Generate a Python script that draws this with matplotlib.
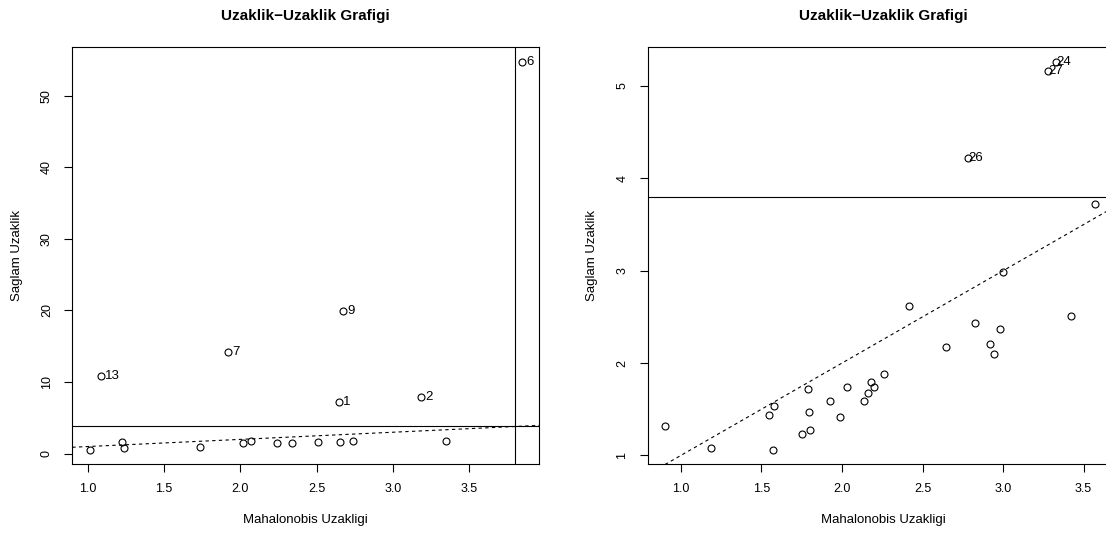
import matplotlib
matplotlib.use("Agg")
import matplotlib.pyplot as plt
import numpy as np

plt.rcParams['font.family'] = ['Liberation Sans', 'DejaVu Sans']

# left panel data
mah1 = [1.085, 1.921, 2.672, 2.646, 3.181, 3.846,
        1.013, 1.227, 1.238, 1.738, 2.017, 2.067, 2.242, 2.336, 2.506, 2.652, 2.739, 3.344]
rob1 = [10.9, 14.16, 19.93, 7.22, 7.92, 54.66,
        0.56, 1.59, 0.75, 0.98, 1.45, 1.77, 1.54, 1.49, 1.59, 1.63, 1.82, 1.73]
lab1 = ["13", "7", "9", "1", "2", "6"] + [""] * 12

# right panel data
mah2 = [2.784, 3.329, 3.279, 3.572, 3.001,
        0.903, 1.184, 1.574, 1.545, 1.576, 1.751, 1.803, 1.794, 1.788, 1.926, 1.986, 2.029,
        2.139, 2.161, 2.182, 2.196, 2.258, 2.417, 2.646, 2.824, 2.916, 2.945, 2.984, 3.421]
rob2 = [4.225, 5.264, 5.163, 3.721, 2.985,
        1.318, 1.080, 1.062, 1.433, 1.535, 1.231, 1.275, 1.473, 1.714, 1.589, 1.419, 1.736,
        1.592, 1.675, 1.794, 1.740, 1.877, 2.623, 2.169, 2.439, 2.206, 2.093, 2.368, 2.512]
lab2 = ["26", "24", "27"] + [""] * 26

cutoff = 3.8013  # sqrt(qchisq(0.975, 6))

fig = plt.figure(figsize=(11.06, 5.36), dpi=100)
ax1 = fig.add_axes([0.0654, 0.1343, 0.4219, 0.7786])
ax2 = fig.add_axes([0.5856, 0.1343, 0.4262, 0.7786])


def panel(ax, x, y, labels, xlim, ylim, yticks, lab_dx):
    ax.plot(x, y, 'o', mfc='none', mec='black', ms=5, mew=0.8, clip_on=False, zorder=3)
    for xi, yi, l in zip(x, y, labels):
        if l:
            ax.annotate(l, (xi, yi), xytext=(lab_dx, 0), textcoords='offset points',
                        ha='left', va='center', fontsize=9.5)
    ax.axhline(cutoff, color='black', lw=0.8)
    ax.axvline(cutoff, color='black', lw=0.8)
    xx = np.array(xlim)
    ax.plot(xx, xx, 'k--', lw=0.8, dashes=(3, 3))
    ax.set_xlim(xlim)
    ax.set_ylim(ylim)
    ax.set_xticks([1.0, 1.5, 2.0, 2.5, 3.0, 3.5])
    ax.set_xticklabels(["1.0", "1.5", "2.0", "2.5", "3.0", "3.5"])
    ax.set_yticks(yticks)
    ax.tick_params(direction='out', length=6, width=0.8, labelsize=9, pad=8)
    for lbl in ax.get_yticklabels():
        lbl.set_rotation(90)
        lbl.set_va('center')
    for s in ax.spines.values():
        s.set_linewidth(0.8)
    ax.set_title("Uzaklik\u2212Uzaklik Grafigi", fontsize=11, fontweight='bold', pad=19)
    ax.set_xlabel("Mahalonobis Uzakligi", fontsize=9.5, labelpad=13)
    ax.set_ylabel("Saglam Uzaklik", fontsize=9.5, labelpad=13)


panel(ax1, mah1, rob1, lab1, (0.899, 3.955), (-1.44, 56.84), [0, 10, 20, 30, 40, 50], 3)
panel(ax2, mah2, rob2, lab2, (0.794, 3.72), (0.907, 5.426), [1, 2, 3, 4, 5], 0)

fig.savefig("out.png", dpi=100)
